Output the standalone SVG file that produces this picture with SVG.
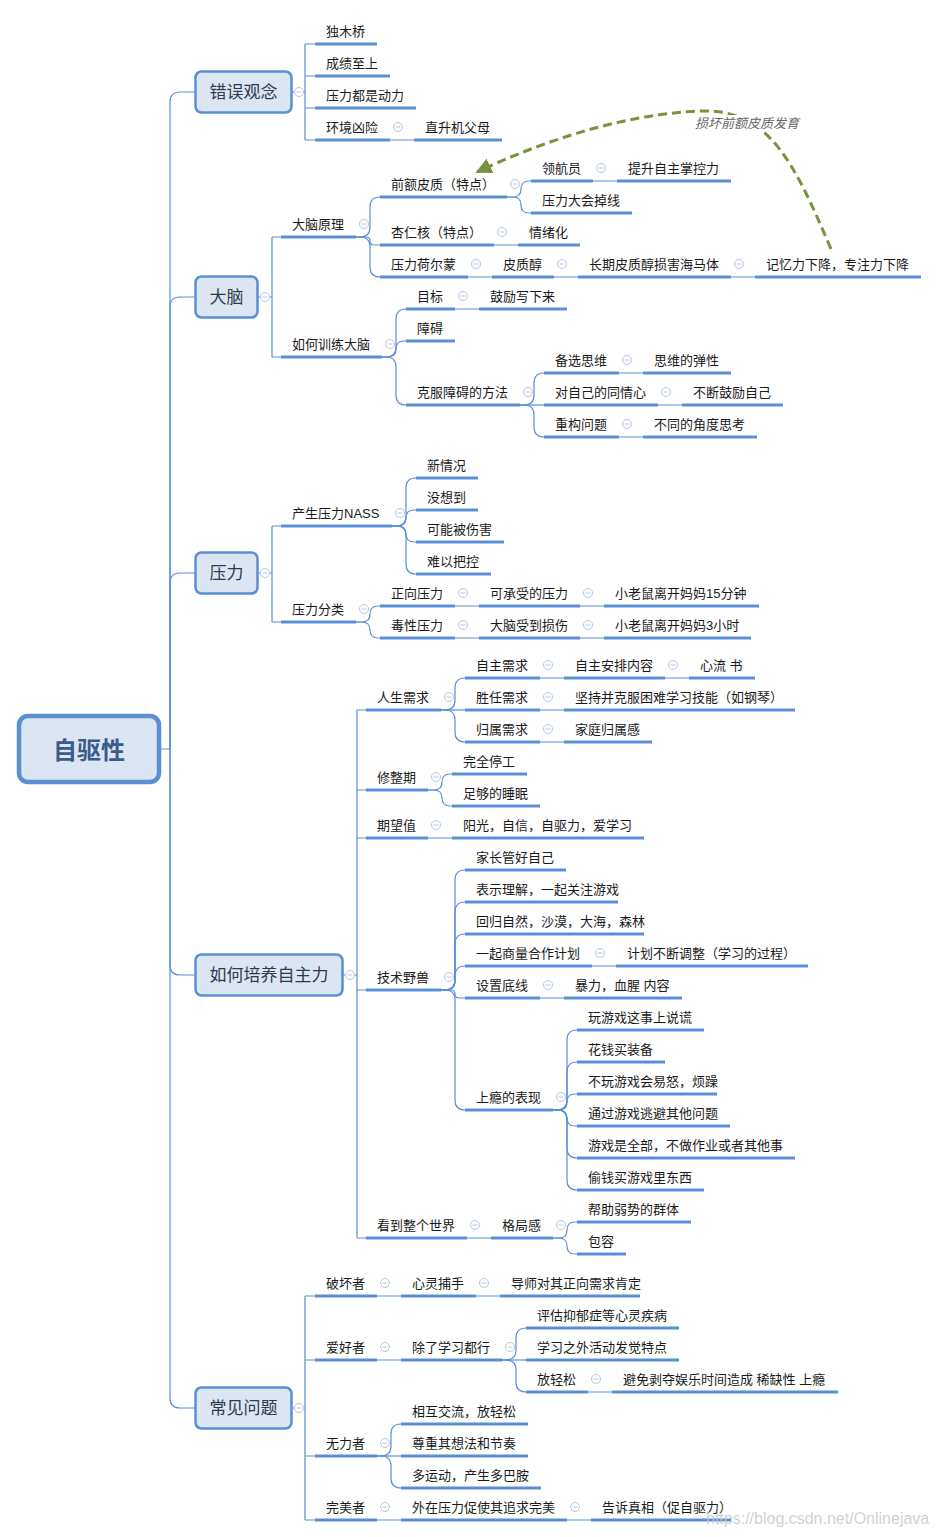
<svg xmlns="http://www.w3.org/2000/svg" xmlns:xlink="http://www.w3.org/1999/xlink" width="939" height="1537" viewBox="0 0 939 1537">
<style>
.t{font-family:"Liberation Sans","Noto Sans CJK SC",sans-serif;font-size:13px;fill:#1a1a1a}
.bar{stroke:#5b8fd3;stroke-width:3;fill:none}
.ln{stroke:#5b8fd3;stroke-width:1.2;fill:none}
.box{fill:#dce6f2;stroke:#5b8fd3;stroke-width:2.5}
.t1{font-family:"Liberation Sans","Noto Sans CJK SC",sans-serif;font-size:17px;fill:#2f3a4d;text-anchor:middle}
.root{font-family:"Liberation Sans","Noto Sans CJK SC",sans-serif;font-size:24px;font-weight:bold;fill:#3a5b8c;text-anchor:middle}
.rel{fill:none;stroke:#77933c;stroke-width:3;stroke-dasharray:9 5}
.rl{font-family:"Liberation Sans","Noto Sans CJK SC",sans-serif;font-size:13px;font-style:italic;fill:#666}
.wm{font-family:"Liberation Sans",sans-serif;font-size:16px;fill:#c8c8c8;fill-opacity:0.85}
</style>
<defs>
<g id="col"><circle r="4.5" fill="#fff" stroke="#b7c6e3" stroke-width="1"/><line x1="-2.5" y1="0" x2="2.5" y2="0" stroke="#b7c6e3" stroke-width="1"/></g>
<marker id="ah" viewBox="0 0 10 10" refX="9" refY="5" markerWidth="16" markerHeight="16" markerUnits="userSpaceOnUse" orient="auto"><path d="M0,0 L10,5 L0,10 z" fill="#77933c"/></marker>
</defs>
<rect width="939" height="1537" fill="#fff"/>

<g id="connectors">
<path class="ln" d="M160,749 H170 V102 Q170,92 180,92 H195"/>
<path class="ln" d="M170,749 V307 Q170,297 180,297 H195"/>
<path class="ln" d="M170,749 V583 Q170,573 180,573 H195"/>
<path class="ln" d="M170,749 V965 Q170,975 180,975 H195"/>
<path class="ln" d="M170,749 V1398 Q170,1408 180,1408 H195"/>
<path class="ln" d="M292,92 H305 M305,44 V140 M305,44 H315 M305,76 H315 M305,108 H315 M305,140 H315"/>
<path class="ln" d="M258,297 H272 M272,237 V357 M272,237 H281 M272,357 H281"/>
<path class="ln" d="M258,573 H272 M272,526 V622 M272,526 H281 M272,622 H281"/>
<path class="ln" d="M343,975 H357 M357,710 V1238 M357,710 H366 M357,790 H366 M357,838 H366 M357,990 H366 M357,1238 H366"/>
<path class="ln" d="M292,1408 H305 M305,1296 V1520 M305,1296 H315 M305,1360 H315 M305,1456 H315 M305,1520 H315"/>
<path class="ln" d="M356,237 H360 Q370,237 370,227 V207 Q370,197 380,197"/>
<path class="ln" d="M356,237 H366 Q370,237 370,241 Q370,245 374,245 H380"/>
<path class="ln" d="M356,237 H360 Q370,237 370,247 V267 Q370,277 380,277"/>
<path class="ln" d="M507,197 H513 Q521,197 521,189 Q521,181 529,181 H531"/>
<path class="ln" d="M507,197 H513 Q521,197 521,205 Q521,213 529,213 H531"/>
<path class="ln" d="M382,357 H386 Q396,357 396,347 V319 Q396,309 406,309"/>
<path class="ln" d="M382,357 H388 Q396,357 396,349 Q396,341 404,341 H406"/>
<path class="ln" d="M382,357 H386 Q396,357 396,367 V395 Q396,405 406,405"/>
<path class="ln" d="M520,405 H524 Q534,405 534,395 V383 Q534,373 544,373"/>
<path class="ln" d="M520,405 H544"/>
<path class="ln" d="M520,405 H524 Q534,405 534,415 V427 Q534,437 544,437"/>
<path class="ln" d="M392,526 H396 Q406,526 406,516 V488 Q406,478 416,478"/>
<path class="ln" d="M392,526 H398 Q406,526 406,518 Q406,510 414,510 H416"/>
<path class="ln" d="M392,526 H398 Q406,526 406,534 Q406,542 414,542 H416"/>
<path class="ln" d="M392,526 H396 Q406,526 406,536 V564 Q406,574 416,574"/>
<path class="ln" d="M356,622 H362 Q370,622 370,614 Q370,606 378,606 H380"/>
<path class="ln" d="M356,622 H362 Q370,622 370,630 Q370,638 378,638 H380"/>
<path class="ln" d="M441,710 H445 Q455,710 455,700 V688 Q455,678 465,678"/>
<path class="ln" d="M441,710 H465"/>
<path class="ln" d="M441,710 H445 Q455,710 455,720 V732 Q455,742 465,742"/>
<path class="ln" d="M428,790 H434 Q442,790 442,782 Q442,774 450,774 H452"/>
<path class="ln" d="M428,790 H434 Q442,790 442,798 Q442,806 450,806 H452"/>
<path class="ln" d="M441,990 H445 Q455,990 455,980 V880 Q455,870 465,870"/>
<path class="ln" d="M441,990 H445 Q455,990 455,980 V912 Q455,902 465,902"/>
<path class="ln" d="M441,990 H445 Q455,990 455,980 V944 Q455,934 465,934"/>
<path class="ln" d="M441,990 H445 Q455,990 455,980 V976 Q455,966 465,966"/>
<path class="ln" d="M441,990 H451 Q455,990 455,994 Q455,998 459,998 H465"/>
<path class="ln" d="M441,990 H445 Q455,990 455,1000 V1100 Q455,1110 465,1110"/>
<path class="ln" d="M553,1110 H557 Q567,1110 567,1100 V1040 Q567,1030 577,1030"/>
<path class="ln" d="M553,1110 H557 Q567,1110 567,1100 V1072 Q567,1062 577,1062"/>
<path class="ln" d="M553,1110 H559 Q567,1110 567,1102 Q567,1094 575,1094 H577"/>
<path class="ln" d="M553,1110 H559 Q567,1110 567,1118 Q567,1126 575,1126 H577"/>
<path class="ln" d="M553,1110 H557 Q567,1110 567,1120 V1148 Q567,1158 577,1158"/>
<path class="ln" d="M553,1110 H557 Q567,1110 567,1120 V1180 Q567,1190 577,1190"/>
<path class="ln" d="M553,1238 H559 Q567,1238 567,1230 Q567,1222 575,1222 H577"/>
<path class="ln" d="M553,1238 H559 Q567,1238 567,1246 Q567,1254 575,1254 H577"/>
<path class="ln" d="M502,1360 H506 Q516,1360 516,1350 V1338 Q516,1328 526,1328"/>
<path class="ln" d="M502,1360 H526"/>
<path class="ln" d="M502,1360 H506 Q516,1360 516,1370 V1382 Q516,1392 526,1392"/>
<path class="ln" d="M377,1456 H381 Q391,1456 391,1446 V1434 Q391,1424 401,1424"/>
<path class="ln" d="M377,1456 H401"/>
<path class="ln" d="M377,1456 H381 Q391,1456 391,1466 V1478 Q391,1488 401,1488"/>
<path class="ln" d="M390,140 H414 M593,181 H617 M494,245 H518 M468,277 H492 M554,277 H578 M731,277 H755 M455,309 H479 M619,373 H643 M658,405 H682 M619,437 H643 M455,606 H479 M580,606 H604 M455,638 H479 M580,638 H604 M540,678 H564 M665,678 H689 M540,710 H564 M540,742 H564 M428,838 H452 M592,966 H616 M540,998 H564 M467,1238 H491 M377,1296 H401 M476,1296 H500 M377,1360 H401 M588,1392 H612 M377,1520 H401 M567,1520 H591"/>
<path class="rel" d="M831,249 C795,165 770,108 700,111 C625,114 545,140 477,172" marker-end="url(#ah)"/>
</g>

<g id="root">
<rect x="19" y="716" width="140" height="66" rx="9" fill="#dce6f2" stroke="#5b8fd3" stroke-width="4.5"/>
<text class="root" x="89" y="759">自驱性</text>
</g>

<g id="n-cuowu"><rect class="box" x="195.5" y="71.5" width="96" height="41" rx="6"/><text class="t1" x="243.5" y="98">错误观念</text><use href="#col" x="299" y="92"/></g>
<g id="n-danao"><rect class="box" x="195.5" y="276.5" width="62" height="41" rx="6"/><text class="t1" x="226.5" y="303">大脑</text><use href="#col" x="265" y="297"/></g>
<g id="n-yali"><rect class="box" x="195.5" y="552.5" width="62" height="41" rx="6"/><text class="t1" x="226.5" y="579">压力</text><use href="#col" x="265" y="573"/></g>
<g id="n-peiyang"><rect class="box" x="195.5" y="954.5" width="147" height="41" rx="6"/><text class="t1" x="269" y="981">如何培养自主力</text><use href="#col" x="350" y="975"/></g>
<g id="n-changjian"><rect class="box" x="195.5" y="1387.5" width="96" height="41" rx="6"/><text class="t1" x="243.5" y="1414">常见问题</text><use href="#col" x="299" y="1408"/></g>

<g id="n-dumuqiao"><text class="t" x="326" y="36">独木桥</text><path class="bar" d="M315,44 H377"/></g>
<g id="n-chengji"><text class="t" x="326" y="68">成绩至上</text><path class="bar" d="M315,76 H390"/></g>
<g id="n-dongli"><text class="t" x="326" y="100">压力都是动力</text><path class="bar" d="M315,108 H416"/></g>
<g id="n-huanjing"><text class="t" x="326" y="132">环境凶险</text><path class="bar" d="M315,140 H390"/><use href="#col" x="398" y="127"/></g>
<g id="n-zhishengji"><text class="t" x="425" y="132">直升机父母</text><path class="bar" d="M414,140 H502"/></g>

<g id="n-yuanli"><text class="t" x="292" y="229">大脑原理</text><path class="bar" d="M281,237 H356"/><use href="#col" x="364" y="224"/></g>
<g id="n-qiane"><text class="t" x="391" y="189">前额皮质（特点）</text><path class="bar" d="M380,197 H507"/><use href="#col" x="515" y="184"/></g>
<g id="n-linghang"><text class="t" x="542" y="173">领航员</text><path class="bar" d="M531,181 H593"/><use href="#col" x="601" y="168"/></g>
<g id="n-zhangkong"><text class="t" x="628" y="173">提升自主掌控力</text><path class="bar" d="M617,181 H731"/></g>
<g id="n-diaoxian"><text class="t" x="542" y="205">压力大会掉线</text><path class="bar" d="M531,213 H632"/></g>
<g id="n-xingren"><text class="t" x="391" y="237">杏仁核（特点）</text><path class="bar" d="M380,245 H494"/><use href="#col" x="502" y="232"/></g>
<g id="n-qingxu"><text class="t" x="529" y="237">情绪化</text><path class="bar" d="M518,245 H580"/></g>
<g id="n-heermeng"><text class="t" x="391" y="269">压力荷尔蒙</text><path class="bar" d="M380,277 H468"/><use href="#col" x="476" y="264"/></g>
<g id="n-pizhichun"><text class="t" x="503" y="269">皮质醇</text><path class="bar" d="M492,277 H554"/><use href="#col" x="562" y="264"/></g>
<g id="n-haima"><text class="t" x="589" y="269">长期皮质醇损害海马体</text><path class="bar" d="M578,277 H731"/><use href="#col" x="739" y="264"/></g>
<g id="n-jiyi"><text class="t" x="766" y="269">记忆力下降，专注力下降</text><path class="bar" d="M755,277 H921"/></g>
<g id="n-xunlian"><text class="t" x="292" y="349">如何训练大脑</text><path class="bar" d="M281,357 H382"/><use href="#col" x="390" y="344"/></g>
<g id="n-mubiao"><text class="t" x="417" y="301">目标</text><path class="bar" d="M406,309 H455"/><use href="#col" x="463" y="296"/></g>
<g id="n-xiexia"><text class="t" x="490" y="301">鼓励写下来</text><path class="bar" d="M479,309 H567"/></g>
<g id="n-zhangai"><text class="t" x="417" y="333">障碍</text><path class="bar" d="M406,341 H455"/></g>
<g id="n-kefu"><text class="t" x="417" y="397">克服障碍的方法</text><path class="bar" d="M406,405 H520"/><use href="#col" x="528" y="392"/></g>
<g id="n-beixuan"><text class="t" x="555" y="365">备选思维</text><path class="bar" d="M544,373 H619"/><use href="#col" x="627" y="360"/></g>
<g id="n-tanxing"><text class="t" x="654" y="365">思维的弹性</text><path class="bar" d="M643,373 H731"/></g>
<g id="n-tongqing"><text class="t" x="555" y="397">对自己的同情心</text><path class="bar" d="M544,405 H658"/><use href="#col" x="666" y="392"/></g>
<g id="n-guli"><text class="t" x="693" y="397">不断鼓励自己</text><path class="bar" d="M682,405 H783"/></g>
<g id="n-chonggou"><text class="t" x="555" y="429">重构问题</text><path class="bar" d="M544,437 H619"/><use href="#col" x="627" y="424"/></g>
<g id="n-jiaodu"><text class="t" x="654" y="429">不同的角度思考</text><path class="bar" d="M643,437 H757"/></g>

<g id="n-nass"><text class="t" x="292" y="518">产生压力NASS</text><path class="bar" d="M281,526 H392"/><use href="#col" x="400" y="513"/></g>
<g id="n-xinqing"><text class="t" x="427" y="470">新情况</text><path class="bar" d="M416,478 H478"/></g>
<g id="n-meixiang"><text class="t" x="427" y="502">没想到</text><path class="bar" d="M416,510 H478"/></g>
<g id="n-shanghai"><text class="t" x="427" y="534">可能被伤害</text><path class="bar" d="M416,542 H504"/></g>
<g id="n-bakong"><text class="t" x="427" y="566">难以把控</text><path class="bar" d="M416,574 H491"/></g>
<g id="n-fenlei"><text class="t" x="292" y="614">压力分类</text><path class="bar" d="M281,622 H356"/><use href="#col" x="364" y="609"/></g>
<g id="n-zhengxiang"><text class="t" x="391" y="598">正向压力</text><path class="bar" d="M380,606 H455"/><use href="#col" x="463" y="593"/></g>
<g id="n-chengshou"><text class="t" x="490" y="598">可承受的压力</text><path class="bar" d="M479,606 H580"/><use href="#col" x="588" y="593"/></g>
<g id="n-15min"><text class="t" x="615" y="598">小老鼠离开妈妈15分钟</text><path class="bar" d="M604,606 H759"/></g>
<g id="n-duxing"><text class="t" x="391" y="630">毒性压力</text><path class="bar" d="M380,638 H455"/><use href="#col" x="463" y="625"/></g>
<g id="n-sunshang"><text class="t" x="490" y="630">大脑受到损伤</text><path class="bar" d="M479,638 H580"/><use href="#col" x="588" y="625"/></g>
<g id="n-3h"><text class="t" x="615" y="630">小老鼠离开妈妈3小时</text><path class="bar" d="M604,638 H751"/></g>

<g id="n-rensheng"><text class="t" x="377" y="702">人生需求</text><path class="bar" d="M366,710 H441"/><use href="#col" x="449" y="697"/></g>
<g id="n-zizhu"><text class="t" x="476" y="670">自主需求</text><path class="bar" d="M465,678 H540"/><use href="#col" x="548" y="665"/></g>
<g id="n-anpai"><text class="t" x="575" y="670">自主安排内容</text><path class="bar" d="M564,678 H665"/><use href="#col" x="673" y="665"/></g>
<g id="n-xinliu"><text class="t" x="700" y="670">心流 书</text><path class="bar" d="M689,678 H755"/></g>
<g id="n-shengren"><text class="t" x="476" y="702">胜任需求</text><path class="bar" d="M465,710 H540"/><use href="#col" x="548" y="697"/></g>
<g id="n-gangqin"><text class="t" x="575" y="702">坚持并克服困难学习技能（如钢琴）</text><path class="bar" d="M564,710 H795"/></g>
<g id="n-guishu"><text class="t" x="476" y="734">归属需求</text><path class="bar" d="M465,742 H540"/><use href="#col" x="548" y="729"/></g>
<g id="n-jiating"><text class="t" x="575" y="734">家庭归属感</text><path class="bar" d="M564,742 H652"/></g>
<g id="n-xiuzheng"><text class="t" x="377" y="782">修整期</text><path class="bar" d="M366,790 H428"/><use href="#col" x="436" y="777"/></g>
<g id="n-tinggong"><text class="t" x="463" y="766">完全停工</text><path class="bar" d="M452,774 H527"/></g>
<g id="n-shuimian"><text class="t" x="463" y="798">足够的睡眠</text><path class="bar" d="M452,806 H540"/></g>
<g id="n-qiwang"><text class="t" x="377" y="830">期望值</text><path class="bar" d="M366,838 H428"/><use href="#col" x="436" y="825"/></g>
<g id="n-yangguang"><text class="t" x="463" y="830">阳光，自信，自驱力，爱学习</text><path class="bar" d="M452,838 H644"/></g>
<g id="n-jishu"><text class="t" x="377" y="982">技术野兽</text><path class="bar" d="M366,990 H441"/><use href="#col" x="449" y="977"/></g>
<g id="n-guanhao"><text class="t" x="476" y="862">家长管好自己</text><path class="bar" d="M465,870 H566"/></g>
<g id="n-lijie"><text class="t" x="476" y="894">表示理解，一起关注游戏</text><path class="bar" d="M465,902 H618"/></g>
<g id="n-ziran"><text class="t" x="476" y="926">回归自然，沙漠，大海，森林</text><path class="bar" d="M465,934 H644"/></g>
<g id="n-shangliang"><text class="t" x="476" y="958">一起商量合作计划</text><path class="bar" d="M465,966 H592"/><use href="#col" x="600" y="953"/></g>
<g id="n-tiaozheng"><text class="t" x="627" y="958">计划不断调整（学习的过程）</text><path class="bar" d="M616,966 H808"/></g>
<g id="n-dixian"><text class="t" x="476" y="990">设置底线</text><path class="bar" d="M465,998 H540"/><use href="#col" x="548" y="985"/></g>
<g id="n-baoli"><text class="t" x="575" y="990">暴力，血腥 内容</text><path class="bar" d="M564,998 H682"/></g>
<g id="n-shangyin"><text class="t" x="476" y="1102">上瘾的表现</text><path class="bar" d="M465,1110 H553"/><use href="#col" x="561" y="1097"/></g>
<g id="n-shuohuang"><text class="t" x="588" y="1022">玩游戏这事上说谎</text><path class="bar" d="M577,1030 H704"/></g>
<g id="n-zhuangbei"><text class="t" x="588" y="1054">花钱买装备</text><path class="bar" d="M577,1062 H665"/></g>
<g id="n-yinu"><text class="t" x="588" y="1086">不玩游戏会易怒，烦躁</text><path class="bar" d="M577,1094 H717"/></g>
<g id="n-taobi"><text class="t" x="588" y="1118">通过游戏逃避其他问题</text><path class="bar" d="M577,1126 H730"/></g>
<g id="n-quanbu"><text class="t" x="588" y="1150">游戏是全部，不做作业或者其他事</text><path class="bar" d="M577,1158 H795"/></g>
<g id="n-touqian"><text class="t" x="588" y="1182">偷钱买游戏里东西</text><path class="bar" d="M577,1190 H704"/></g>
<g id="n-shijie"><text class="t" x="377" y="1230">看到整个世界</text><path class="bar" d="M366,1238 H467"/><use href="#col" x="475" y="1225"/></g>
<g id="n-geju"><text class="t" x="502" y="1230">格局感</text><path class="bar" d="M491,1238 H553"/><use href="#col" x="561" y="1225"/></g>
<g id="n-ruoshi"><text class="t" x="588" y="1214">帮助弱势的群体</text><path class="bar" d="M577,1222 H691"/></g>
<g id="n-baorong"><text class="t" x="588" y="1246">包容</text><path class="bar" d="M577,1254 H626"/></g>

<g id="n-pohuai"><text class="t" x="326" y="1288">破坏者</text><path class="bar" d="M315,1296 H377"/><use href="#col" x="385" y="1283"/></g>
<g id="n-buoshou"><text class="t" x="412" y="1288">心灵捕手</text><path class="bar" d="M401,1296 H476"/><use href="#col" x="484" y="1283"/></g>
<g id="n-daoshi"><text class="t" x="511" y="1288">导师对其正向需求肯定</text><path class="bar" d="M500,1296 H640"/></g>
<g id="n-aihao"><text class="t" x="326" y="1352">爱好者</text><path class="bar" d="M315,1360 H377"/><use href="#col" x="385" y="1347"/></g>
<g id="n-duxing2"><text class="t" x="412" y="1352">除了学习都行</text><path class="bar" d="M401,1360 H502"/><use href="#col" x="510" y="1347"/></g>
<g id="n-yiyu"><text class="t" x="537" y="1320">评估抑郁症等心灵疾病</text><path class="bar" d="M526,1328 H679"/></g>
<g id="n-tedian"><text class="t" x="537" y="1352">学习之外活动发觉特点</text><path class="bar" d="M526,1360 H679"/></g>
<g id="n-fangqingsong"><text class="t" x="537" y="1384">放轻松</text><path class="bar" d="M526,1392 H588"/><use href="#col" x="596" y="1379"/></g>
<g id="n-bimian"><text class="t" x="623" y="1384">避免剥夺娱乐时间造成 稀缺性 上瘾</text><path class="bar" d="M612,1392 H838"/></g>
<g id="n-wuli"><text class="t" x="326" y="1448">无力者</text><path class="bar" d="M315,1456 H377"/><use href="#col" x="385" y="1443"/></g>
<g id="n-jiaoliu"><text class="t" x="412" y="1416">相互交流，放轻松</text><path class="bar" d="M401,1424 H528"/></g>
<g id="n-zunzhong"><text class="t" x="412" y="1448">尊重其想法和节奏</text><path class="bar" d="M401,1456 H528"/></g>
<g id="n-yundong"><text class="t" x="412" y="1480">多运动，产生多巴胺</text><path class="bar" d="M401,1488 H541"/></g>
<g id="n-wanmei"><text class="t" x="326" y="1512">完美者</text><path class="bar" d="M315,1520 H377"/><use href="#col" x="385" y="1507"/></g>
<g id="n-waizai"><text class="t" x="412" y="1512">外在压力促使其追求完美</text><path class="bar" d="M401,1520 H567"/><use href="#col" x="575" y="1507"/></g>
<g id="n-zhenxiang"><text class="t" x="602" y="1512">告诉真相（促自驱力）</text><path class="bar" d="M591,1520 H731"/></g>

<g id="rel-label"><rect x="693" y="115" width="108" height="16" fill="#fff"/><text class="rl" x="695" y="128">损坏前额皮质发育</text></g>
<text class="wm" x="706" y="1524">https://blog.csdn.net/Onlinejava</text>
</svg>
